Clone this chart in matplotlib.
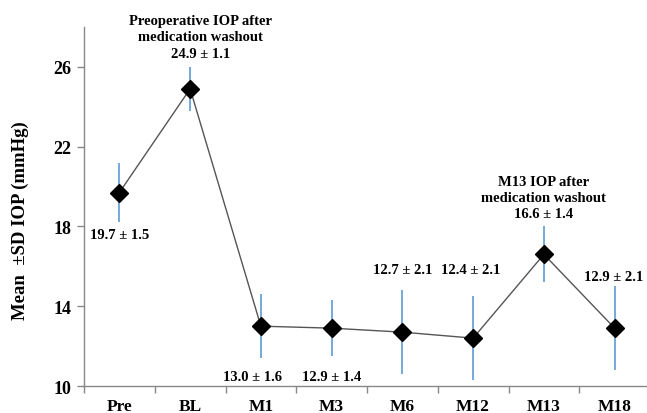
import matplotlib
matplotlib.use("Agg")
import matplotlib.pyplot as plt
import numpy as np
from matplotlib.ticker import FixedLocator

plt.rcParams['font.family'] = ['Liberation Serif', 'DejaVu Serif']
plt.rcParams['font.weight'] = 'bold'

# Visits and mean IOP ± SD (mmHg)
visits = ["Pre", "BL", "M1", "M3", "M6", "M12", "M13", "M18"]
mean_iop = [19.7, 24.9, 13.0, 12.9, 12.7, 12.4, 16.6, 12.9]
sd_iop = [1.5, 1.1, 1.6, 1.4, 2.1, 2.1, 1.4, 2.1]
y_ticks = [10, 14, 18, 22, 26]

fig = plt.figure(figsize=(6.47, 4.14), dpi=100)
ax = fig.add_axes([84 / 647, 27 / 414, 566 / 647, 359 / 414])

x = np.arange(len(visits))
ax.errorbar(x, mean_iop, yerr=sd_iop, fmt='none', ecolor='#5b9bd5',
            elinewidth=1.2, capsize=0, zorder=2)
ax.plot(x, mean_iop, color='#555555', lw=1.0, zorder=3)
ax.plot(x, mean_iop, linestyle='none', marker='D', markersize=9,
        color='black', zorder=4)

ax.set_xlim(-0.5, len(visits) - 0.5)
ax.set_ylim(10, 28)
ax.set_yticks(y_ticks)
ax.set_yticklabels([str(t) for t in y_ticks], fontsize=13, fontweight='bold')
ax.set_xticks(x)
ax.set_xticklabels(visits, fontsize=12.5, fontweight='bold')
ax.xaxis.set_minor_locator(FixedLocator(np.arange(-0.5, len(visits), 1.0)))
ax.tick_params(axis='x', which='major', length=0, pad=8.5)
ax.tick_params(axis='x', which='minor', length=5, color='#888888', width=1)
ax.tick_params(axis='y', which='major', length=5, color='#888888', width=1, pad=4)

for side in ['top', 'right']:
    ax.spines[side].set_visible(False)
for side in ['left', 'bottom']:
    ax.spines[side].set_color('#888888')
    ax.spines[side].set_linewidth(1)

fig.text(20 / 647, 1 - 221 / 414, "Mean  \u00b1SD IOP (mmHg)", rotation=90,
         ha='center', va='center', fontsize=13.5, fontweight='bold')

labels = [f"{m:.1f} \u00b1 {s:.1f}" for m, s in zip(mean_iop, sd_iop)]
fs = 10.5
# value labels and annotations, placed in data coordinates
ax.text(x[0], 17.6, labels[0], ha='center', va='center', fontsize=fs)
ax.text(x[1] + 0.15, 26.65, labels[1], ha='center', va='center', fontsize=fs)
ax.text(x[1] + 0.15, 27.5, "medication washout", ha='center', va='center',
        fontsize=fs, clip_on=False)
ax.text(x[1] + 0.15, 28.35, "Preoperative IOP after", ha='center', va='center',
        fontsize=fs, clip_on=False)
ax.text(x[2] - 0.12, 10.5, labels[2], ha='center', va='center', fontsize=fs)
ax.text(x[3], 10.5, labels[3], ha='center', va='center', fontsize=fs)
ax.text(x[4], 15.85, labels[4], ha='center', va='center', fontsize=fs)
ax.text(x[5] - 0.04, 15.85, labels[5], ha='center', va='center', fontsize=fs)
ax.text(x[6], 18.65, labels[6], ha='center', va='center', fontsize=fs)
ax.text(x[6], 19.45, "medication washout", ha='center', va='center', fontsize=fs)
ax.text(x[6], 20.25, "M13 IOP after", ha='center', va='center', fontsize=fs)
ax.text(x[7] - 0.02, 15.5, labels[7], ha='center', va='center', fontsize=fs)

fig.savefig("out.png", dpi=100)
